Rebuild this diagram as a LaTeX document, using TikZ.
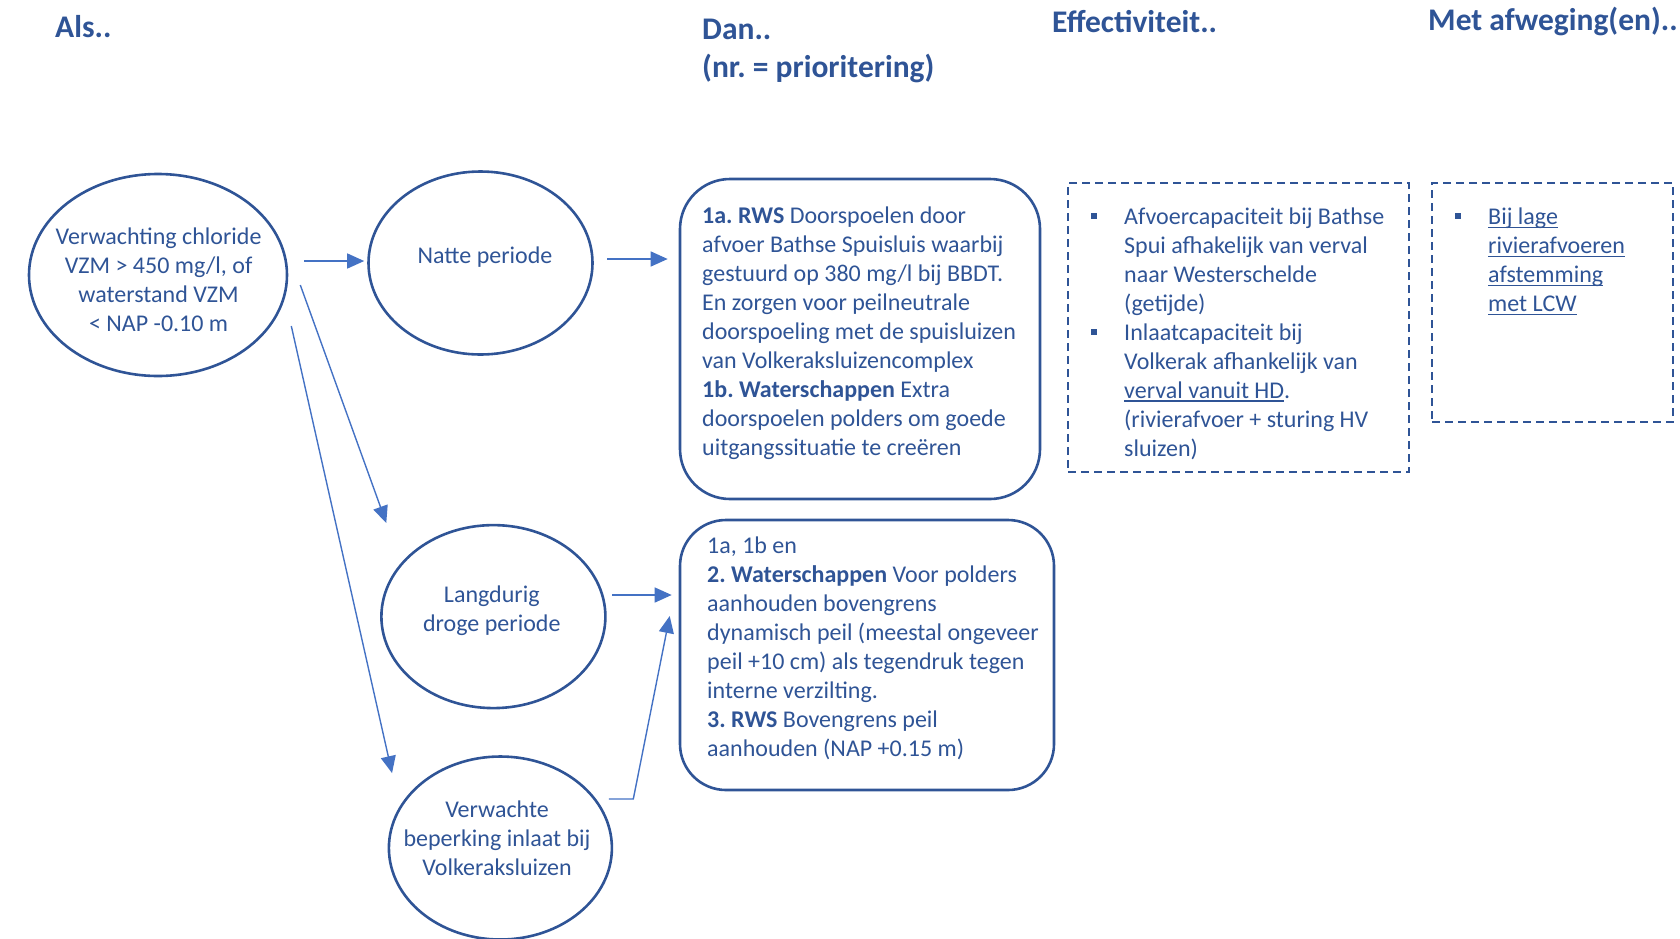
\documentclass[tikz,border=0pt]{standalone}
\usepackage{fontspec}
\setmainfont{Carlito}
\usepackage{xcolor}
\definecolor{rwsdark}{HTML}{2F5496}
\definecolor{rwsblue}{HTML}{4472C4}
\usetikzlibrary{positioning, arrows.meta, shapes.geometric}
\newcommand{\onderstreep}[1]{\leavevmode\setbox0\hbox{#1}\rlap{\rule[-3.5pt]{\wd0}{1.3pt}}\box0}
\frenchspacing

\begin{document}
\begin{tikzpicture}[
  x=1pt, y=-1pt,
  every node/.style={text=rwsdark},
  header/.style={font=\fontsize{31.5}{37.5}\selectfont\bfseries, align=left, inner sep=0pt},
  txt/.style={font=\fontsize{24}{28.9}\selectfont, align=left, inner sep=0pt},
  ctxt/.style={txt, align=center},
  situatie/.style={ellipse, draw=rwsdark, line width=2.6pt, inner sep=0pt},
  maatregel/.style={draw=rwsdark, line width=2.6pt, rounded corners=50pt, inner sep=0pt},
  afweging/.style={draw=rwsdark, line width=2pt, dash pattern=on 8pt off 5pt, inner sep=0pt},
  blokje/.style={fill=rwsdark, minimum size=6.5pt, inner sep=0pt},
  arrow/.style={-{Triangle[length=17pt, width=15pt]}, line width=1.4pt, rwsblue}
]
\useasboundingbox (0,0) rectangle (1680,938);

% ---- Koppen ----
\node[header, anchor=base west] (headAls) at (55,37.5) {Als..};
\node[header, anchor=north west] (headDan) at (702,19) {Dan..\\(nr. = prioritering)};
\node[header, anchor=base west] (headEff) at (1052,32) {Effectiviteit..};
\node[header, anchor=base west] (headAfw) at (1428,30) {Met afweging(en)..};

% ---- Situaties ----
\node[situatie, minimum width=258pt, minimum height=202pt] (cond) at (158,275) {};
\node[ctxt] (condtxt) at (158.6,280) {Verwachting chloride\\VZM > 450 mg/l, of\\waterstand VZM\\< NAP -0.10 m};

\node[situatie, minimum width=224pt, minimum height=183pt] (nat) at (480.5,263) {};
\node[ctxt] (nattxt) at (485,257) {Natte periode};

\node[situatie, minimum width=224pt, minimum height=183pt] (droog) at (493.4,616.6) {};
\node[ctxt] (droogtxt) at (491.8,610.6) {Langdurig\\droge periode};

\node[situatie, minimum width=223pt, minimum height=183pt] (inlaat) at (500.4,848) {};
\node[ctxt] (inlaattxt) at (497,838) {Verwachte\\beperking inlaat bij\\Volkeraksluizen};

% ---- Maatregelen ----
\node[maatregel, minimum width=360pt, minimum height=320pt] (dan1) at (860,339) {};
\node[txt, anchor=north west] (dan1txt) at (702,207) {%
  \textbf{1a. RWS} Doorspoelen door\\
  afvoer Bathse Spuisluis waarbij\\
  gestuurd op 380 mg/l bij BBDT.\\
  En zorgen voor peilneutrale\\
  doorspoeling met de spuisluizen\\
  van Volkeraksluizencomplex\\
  \textbf{1b. Waterschappen} Extra\\
  doorspoelen polders om goede\\
  uitgangssituatie te creëren};

\node[maatregel, rounded corners=46pt, minimum width=374pt, minimum height=270pt] (dan2) at (867,655) {};
\node[txt, anchor=north west] (dan2txt) at (707,537) {%
  1a, 1b en\\
  \textbf{2. Waterschappen} Voor polders\\
  aanhouden bovengrens\\
  dynamisch peil (meestal ongeveer\\
  peil +10 cm) als tegendruk tegen\\
  interne verzilting.\\
  \textbf{3. RWS} Bovengrens peil\\
  aanhouden (NAP +0.15 m)};

% ---- Effectiviteit ----
\node[afweging, minimum width=341pt, minimum height=289pt] (eff) at (1238.5,327.5) {};
\node[blokje] (effbul1) at (1094,216) {};
\node[blokje] (effbul2) at (1094,332) {};
\node[txt, anchor=north west] (efftxt) at (1124,208) {%
  Afvoercapaciteit bij Bathse\\
  Spui afhakelijk van verval\\
  naar Westerschelde\\
  (getijde)\\
  Inlaatcapaciteit bij\\
  Volkerak afhankelijk van\\
  \onderstreep{verval vanuit HD}.\\
  (rivierafvoer + sturing HV\\
  sluizen)};

% ---- Afwegingen ----
\node[afweging, minimum width=241pt, minimum height=239pt] (afw) at (1552.5,302.5) {};
\node[blokje] (afwbul) at (1458,216) {};
\node[txt, anchor=north west] (afwtxt) at (1488,208) {%
  \onderstreep{Bij lage}\\
  \onderstreep{rivierafvoeren}\\
  \onderstreep{afstemming}\\
  \onderstreep{met LCW}};

% Pijlen
\draw[arrow] ([shift={(16,-14)}]cond.east) -- ([shift={(-3,-2)}]nat.west);
\draw[arrow] ([shift={(13.5,-4)}]nat.east) -- ([shift={(-11,-80)}]dan1.west);
\draw[arrow] ([shift={(12,10)}]cond.east) -- ([shift={(-27,-28)}]droog.north west);
\draw[arrow] ([shift={(3,51)}]cond.east) -- ([shift={(-28.6,-9.3)}]inlaat.north west);
\draw[arrow] ([shift={(5.6,-21.6)}]droog.east) -- ([shift={(-7,-60)}]dan2.west);
\draw[arrow] ([shift={(-4.4,-49)}]inlaat.east) -- ++(24.5,0)
  -- ([shift={(-9,-39)}]dan2.west);

\end{tikzpicture}
\end{document}
